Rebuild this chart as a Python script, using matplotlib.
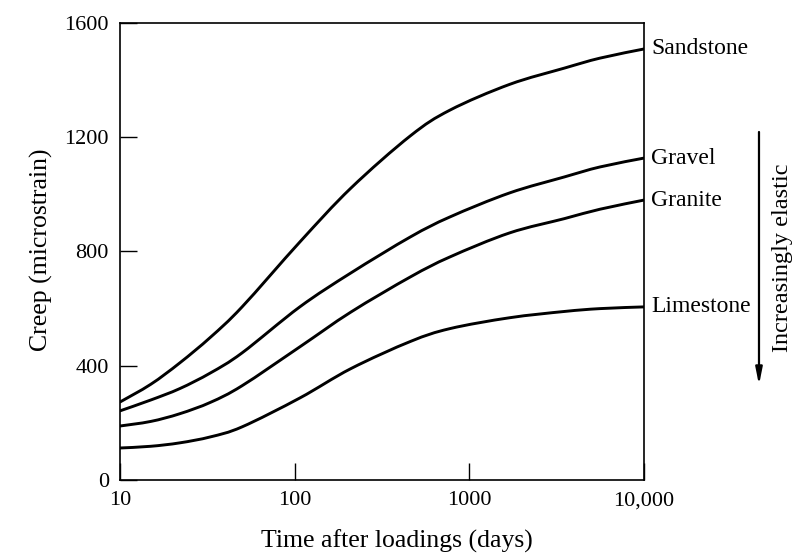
import numpy as np
import matplotlib
matplotlib.use("Agg")
import matplotlib.pyplot as plt
from matplotlib.path import Path
from matplotlib.patches import PathPatch
from matplotlib.ticker import FixedLocator, FixedFormatter, NullLocator

plt.rcParams['font.family'] = ['Liberation Serif', 'DejaVu Serif']

# values (days, microstrain)
days = [10, 15, 22, 33, 50, 107, 210, 460, 775, 1700, 3500, 5600, 10000]
sandstone = [273, 335, 410, 500, 606, 833, 1022, 1205, 1295, 1385, 1442, 1477, 1509]
gravel = [242, 280, 320, 375, 445, 606, 725, 851, 921, 1005, 1061, 1096, 1127]
granite = [189, 205, 232, 272, 330, 466, 588, 711, 781, 865, 915, 948, 980]
limestone = [112, 118, 130, 151, 186, 287, 390, 485, 530, 568, 590, 600, 606]

names = ["Sandstone", "Gravel", "Granite", "Limestone"]
series = [sandstone, gravel, granite, limestone]

xticks = [10, 100, 1000, 10000]
xlabels = ["10", "100", "1000", "10,000"]
yticks = [0, 400, 800, 1200, 1600]


def smooth_path(xs, ys):
    # bezier path through the read points (control points in log-x space)
    lx = np.log10(xs)
    ys = np.asarray(ys, float)
    n = len(lx)
    verts = [(xs[0], ys[0])]
    codes = [Path.MOVETO]
    for i in range(n - 1):
        i0 = max(i - 1, 0)
        i3 = min(i + 2, n - 1)
        c1x = lx[i] + (lx[i + 1] - lx[i0]) / 6
        c1y = ys[i] + (ys[i + 1] - ys[i0]) / 6
        c2x = lx[i + 1] - (lx[i3] - lx[i]) / 6
        c2y = ys[i + 1] - (ys[i3] - ys[i]) / 6
        verts += [(10 ** c1x, c1y), (10 ** c2x, c2y), (xs[i + 1], ys[i + 1])]
        codes += [Path.CURVE4] * 3
    return Path(verts, codes)


fig = plt.figure(figsize=(8.08, 5.54), dpi=100)
ax = fig.add_axes([0.1485, 0.1336, 0.6485, 0.8249])

ax.set_xscale("log")
ax.set_xlim(10, 10000)
ax.set_ylim(0, 1600)

for name, vals in zip(names, series):
    ax.add_patch(PathPatch(smooth_path(days, vals), fill=False,
                           edgecolor="black", lw=2.1, capstyle="round"))
    ax.annotate(name, xy=(days[-1], vals[-1]), xytext=(5, 0),
                textcoords="offset points", ha="left", va="center",
                fontsize=17, annotation_clip=False)

ax.xaxis.set_major_locator(FixedLocator(xticks))
ax.xaxis.set_major_formatter(FixedFormatter(xlabels))
ax.xaxis.set_minor_locator(NullLocator())
ax.set_yticks(yticks)

ax.tick_params(axis="both", direction="in", length=12, width=1.0,
               labelsize=16, pad=8)
for s in ax.spines.values():
    s.set_linewidth(1.2)

ax.set_xlabel("Time after loadings (days)", fontsize=18.5)
ax.xaxis.set_label_coords(0.529, -0.108)
ax.set_ylabel("Creep (microstrain)", fontsize=18.5)
ax.yaxis.set_label_coords(-0.128, 0.503)

# "Increasingly elastic" arrow at the right
ax.annotate("", xy=(1.2195, 0.208), xytext=(1.2195, 0.7615),
            xycoords="axes fraction", textcoords="axes fraction",
            arrowprops=dict(arrowstyle="-|>,head_length=1.0,head_width=0.2",
                            color="black", lw=1.6, shrinkA=0, shrinkB=0),
            annotation_clip=False)
ax.text(1.265, 0.486, "Increasingly elastic", transform=ax.transAxes,
        rotation=90, ha="center", va="center", fontsize=17.5)

fig.savefig("out.png", dpi=100)
